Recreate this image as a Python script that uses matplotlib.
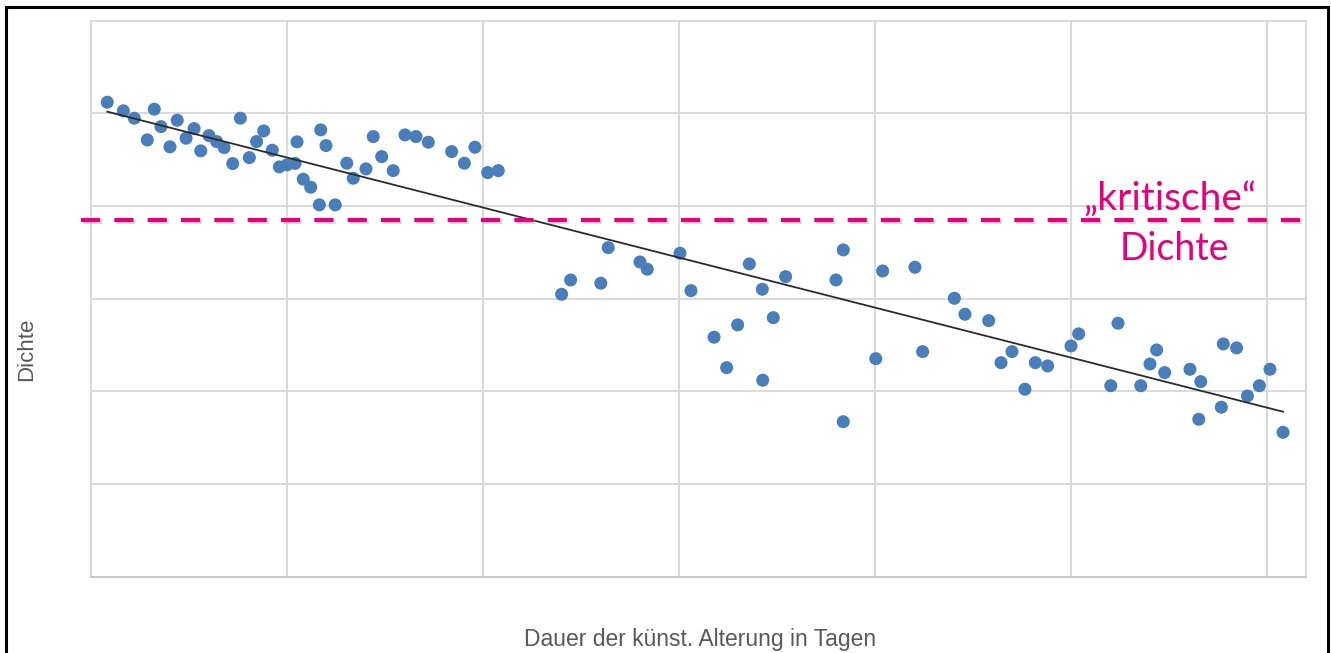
import numpy as np
import matplotlib
matplotlib.use("Agg")
import matplotlib.pyplot as plt
import matplotlib.patheffects as pe
from matplotlib.patches import Rectangle
from matplotlib.transforms import blended_transform_factory

# --- data (arbitrary units) ---
dauer = [0.083, 0.165, 0.221, 0.323, 0.287, 0.357, 0.403, 0.440, 0.485, 0.526,
         0.560, 0.602, 0.641, 0.679, 0.723, 0.762, 0.808, 0.845, 0.881, 0.925,
         0.961, 1.000, 1.041, 1.051, 1.083, 1.121, 1.172, 1.199, 1.165, 1.246,
         1.305, 1.338, 1.403, 1.440, 1.483, 1.542, 1.602, 1.658, 1.721, 1.840,
         1.905, 1.959, 2.024, 2.078, 2.401, 2.447, 2.601, 2.639, 2.801, 2.838,
         3.005, 3.061, 3.179, 3.243, 3.299, 3.359, 3.425, 3.427, 3.481, 3.544,
         3.801, 3.838, 3.838, 4.004, 4.039, 4.204, 4.243, 4.405, 4.459, 4.580,
         4.643, 4.699, 4.765, 4.818, 4.881, 5.000, 5.039, 5.203, 5.240, 5.356,
         5.403, 5.437, 5.478, 5.607, 5.652, 5.662, 5.767, 5.777, 5.845, 5.900,
         5.961, 6.015, 6.082]
dichte = [5.115, 5.022, 4.943, 5.040, 4.709, 4.852, 4.634, 4.921, 4.727, 4.831,
          4.591, 4.755, 4.691, 4.626, 4.454, 4.943, 4.518, 4.691, 4.806, 4.598,
          4.418, 4.440, 4.456, 4.688, 4.286, 4.199, 4.817, 4.648, 4.009, 4.009,
          4.458, 4.296, 4.397, 4.745, 4.529, 4.378, 4.763, 4.745, 4.684, 4.583,
          4.458, 4.630, 4.357, 4.378, 3.046, 3.200, 3.165, 3.548, 3.394, 3.316,
          3.488, 3.085, 2.583, 2.255, 2.716, 3.373, 3.100, 2.120, 2.794, 3.236,
          3.200, 3.524, 1.673, 2.352, 3.297, 3.337, 2.428, 3.003, 2.831, 2.762,
          2.309, 2.428, 2.023, 2.309, 2.274, 2.489, 2.619, 2.061, 2.734, 2.061,
          2.295, 2.446, 2.202, 2.238, 1.699, 2.105, 1.829, 2.511, 2.468, 1.950,
          2.061, 2.238, 1.559]
kritische_dichte = 3.847
x_label = "Dauer der künst. Alterung in Tagen"
y_label = "Dichte"
annot_lines = ["\u201ekritische\u201c", "Dichte"]

W, H = 1331, 653
fig = plt.figure(figsize=(W / 100, H / 100), dpi=100)
fig.patch.set_facecolor("white")
ax = fig.add_axes([91 / W, (H - 577) / H, (1306 - 91) / W, (577 - 21) / H])

x = np.array(dauer)
y = np.array(dichte)

ax.set_xlim(0, 6.199)
ax.set_ylim(0, 5.99)
ax.set_xticks(np.arange(1, 7))
ax.set_yticks(np.arange(1, 6))
ax.tick_params(length=0, labelbottom=False, labelleft=False)
ax.grid(True, color="#D9D9D9", linewidth=1.4)
ax.set_axisbelow(True)
for s in ax.spines.values():
    s.set_color("#D9D9D9")
    s.set_linewidth(1.4)
ax.spines["bottom"].set_color("#C8C8C8")

ax.scatter(x, y, s=88, color="#4A7EBB", edgecolors="none", zorder=3)

# linear trendline
k, d = np.polyfit(x, y, 1)
xt = np.array([x.min(), x.max()])
ax.plot(xt, k * xt + d, color="#2B2B2B", linewidth=1.3, zorder=4)

# critical density line
tr = blended_transform_factory(ax.transAxes, ax.transData)
ax.plot([-0.008, 1.004], [kritische_dichte, kritische_dichte], transform=tr,
        color="#E6007E", linewidth=3.0, dashes=(4.6, 3.4), clip_on=False,
        zorder=5, solid_capstyle="butt", dash_capstyle="butt",
        path_effects=[pe.SimpleLineShadow(offset=(1.0, -1.8), shadow_color="#999999", alpha=0.35),
                      pe.Normal()])

ax.text(5.505, 3.955, annot_lines[0], color="#E6007E", fontsize=28,
        family="Lato", ha="center", va="baseline", zorder=6)
ax.text(5.525, 3.416, annot_lines[1], color="#E6007E", fontsize=27,
        family="Lato", ha="center", va="baseline", zorder=6)

fig.text(700 / W, 1 - 646 / H, x_label, ha="center", va="baseline",
         fontsize=16.5, color="#595959", family="Liberation Sans")
fig.text(27 / W, 1 - 349 / H, y_label, ha="center", va="center", rotation=90,
         fontsize=16, color="#595959", family="Liberation Sans")

# outer frame
fig.patches.append(Rectangle((5.5 / W, -0.05), (1327.5 - 5.5) / W, 1.05 - 7.5 / H,
                             transform=fig.transFigure, fill=False,
                             edgecolor="black", linewidth=2.2))

fig.savefig("out.png", dpi=100)
